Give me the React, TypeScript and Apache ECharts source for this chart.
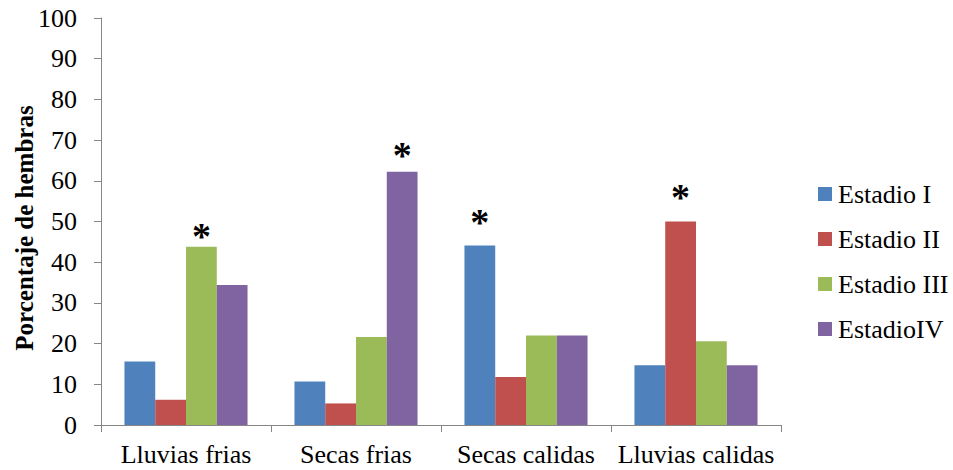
import React, { useEffect, useRef } from "react";
import * as echarts from "echarts";

const categories = ["Lluvias frias", "Secas frias", "Secas calidas", "Lluvias calidas"];
const seriesNames = ["Estadio I", "Estadio II", "Estadio III", "EstadioIV"];
const estadioI = [15.6, 10.7, 44.1, 14.7];
const estadioII = [6.2, 5.3, 11.8, 50.0];
const estadioIII = [43.8, 21.6, 22.0, 20.6];
const estadioIV = [34.4, 62.2, 22.0, 14.7];
const yTicks = { min: 0, max: 100, interval: 10 };
// significance markers: [seriesIndex, categoryIndex]
const stars: [number, number][] = [
  [2, 0],
  [3, 1],
  [0, 2],
  [1, 3],
];

const colors = ["#4F81BD", "#C0504D", "#9BBB59", "#8064A2"];
const starGap: Record<string, number> = { "2-0": -8, "3-1": -2, "0-2": 5, "1-3": 6 };
const FONT = "Liberation Serif";

export default function App() {
  const ref = useRef<HTMLDivElement>(null);
  useEffect(() => {
    if (!ref.current) return;
    const chart = echarts.init(ref.current, null, { renderer: "svg" });
    const all = [estadioI, estadioII, estadioIII, estadioIV];
    const series = all.map((vals, si) => ({
      name: seriesNames[si],
      type: "bar",
      barGap: "0%",
      barCategoryGap: "27.6%",
      itemStyle: { color: colors[si] },
      data: vals.map((v, ci) => {
        const isStar = stars.some(([s, c]) => s === si && c === ci);
        if (!isStar) return v;
        return {
          value: v,
          label: {
            show: true,
            position: "top",
            formatter: "*",
            distance: starGap[`${si}-${ci}`] ?? 0,
            fontSize: 38,
            fontWeight: "bold",
            fontFamily: FONT,
            color: "#000",
          },
        };
      }),
    }));
    chart.setOption({
      animation: false,
      textStyle: { fontFamily: FONT },
      grid: { left: 101, right: 172, top: 18, bottom: 45, containLabel: false },
      legend: {
        orient: "vertical",
        left: 818,
        top: 181,
        padding: 0,
        itemWidth: 14,
        itemHeight: 14,
        itemGap: 19,
        icon: "rect",
        textStyle: { fontSize: 26, fontFamily: FONT, color: "#000", padding: [0, 0, 0, 1] },
        data: seriesNames,
      },
      xAxis: {
        type: "category",
        data: categories,
        axisLine: { lineStyle: { color: "#868686", width: 1 } },
        axisTick: { show: true, length: 7, lineStyle: { color: "#868686" } },
        axisLabel: { fontSize: 26, color: "#000", fontFamily: FONT, margin: 16, interval: 0 },
      },
      yAxis: {
        type: "value",
        min: yTicks.min,
        max: yTicks.max,
        interval: yTicks.interval,
        splitLine: { show: false },
        axisLine: { show: true, lineStyle: { color: "#868686", width: 1 } },
        axisTick: { show: true, length: 7, lineStyle: { color: "#868686" } },
        axisLabel: { fontSize: 26, color: "#000", fontFamily: FONT, margin: 24 },
      },
      graphic: [
        {
          type: "text",
          x: 24,
          y: 228,
          rotation: Math.PI / 2,
          style: {
            text: "Porcentaje de hembras",
            fontSize: 25,
            fontWeight: "bold",
            fontFamily: FONT,
            fill: "#000",
            textAlign: "center",
            textVerticalAlign: "middle",
          },
        },
      ],
      series,
    });
    return () => chart.dispose();
  }, []);
  return <div ref={ref} style={{ width: 953, height: 470, position: "absolute", left: 0, top: 0 }} />;
}
